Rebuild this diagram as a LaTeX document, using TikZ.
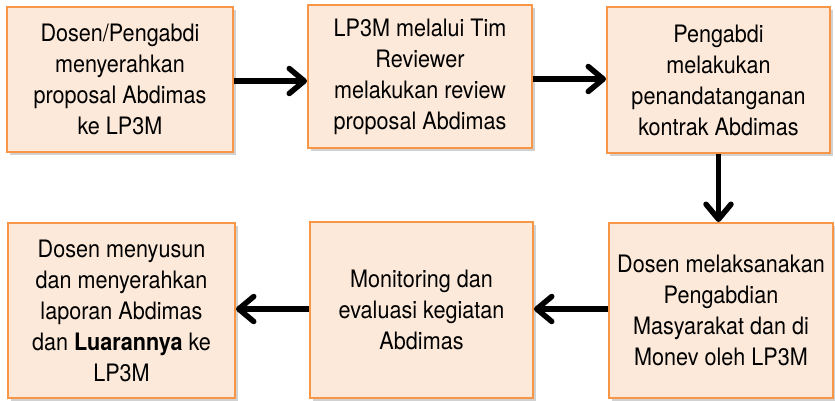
\documentclass[tikz,border=0pt]{standalone}
\usepackage{fontspec}
\setmainfont{TeX Gyre Heros}[FakeStretch=0.9]
\usepackage{xcolor}
\usepackage{tikz}
\usetikzlibrary{arrows.meta,shadows}

\definecolor{boxfill}{HTML}{FDE9D9}
\definecolor{boxline}{HTML}{F79646}

\begin{document}
\begin{tikzpicture}[x=1pt,y=-1pt,
	box/.style={draw=boxline,fill=boxfill,line width=2pt,align=center,
		font=\fontsize{24}{31}\selectfont,inner sep=0pt,
		drop shadow={shadow xshift=2.5pt,shadow yshift=-2.5pt,fill=black!30,opacity=0.6}},
	arr/.style={line width=5.5pt,-{Straight Barb[length=15pt,width=25pt,line cap=round,line join=round]}}]
		\useasboundingbox (0,0) rectangle (835,400);

		\node (b1) [box,minimum width=226pt,minimum height=145pt] at (120,79.5)
			{Dosen/Pengabdi\\menyerahkan\\proposal Abdimas\\ke LP3M};
		\node (b2) [box,minimum width=224pt,minimum height=143pt] at (420,76.5)
			{LP3M melalui Tim\\Reviewer\\melakukan review\\proposal Abdimas};
		\node (b3) [box,minimum width=223pt,minimum height=146pt] at (718.5,80)
			{Pengabdi\\melakukan\\penandatanganan\\kontrak Abdimas};
		\node (b4) [box,minimum width=224pt,minimum height=175pt] at (721,310.5)
			{Dosen melaksanakan\\Pengabdian\\Masyarakat dan di\\Monev oleh LP3M};
		\node (b5) [box,minimum width=223pt,minimum height=176pt] at (421.5,310)
			{Monitoring dan\\evaluasi kegiatan\\Abdimas};
		\node (b6) [box,minimum width=227pt,minimum height=175pt] at (121.5,310.5)
			{Dosen menyusun\\dan menyerahkan\\laporan Abdimas\\dan \textbf{Luarannya} ke\\LP3M};

		\draw[arr] ([yshift=-1.5pt]b1.east) -- ([yshift=-1.5pt]b1.east -| b2.west);
		\draw[arr] ([yshift=-2.5pt]b2.east) -- ([yshift=-2.5pt]b2.east -| b3.west);
		\draw[arr] (b3.south) -- (b3.south |- b4.north);
		\draw[arr] ([yshift=1.5pt]b4.west) -- ([yshift=1.5pt]b4.west -| b5.east);
		\draw[arr] ([yshift=1pt]b5.west) -- ([yshift=1pt]b5.west -| b6.east);
\end{tikzpicture}
\end{document}
